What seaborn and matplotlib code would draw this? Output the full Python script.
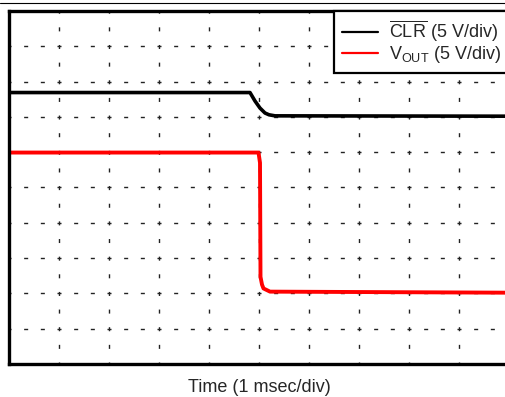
import numpy as np
import pandas as pd
import matplotlib.pyplot as plt
import seaborn as sns
from matplotlib.lines import Line2D

# scope traces, read in screen divisions (x: 1 msec/div, y: 5 V/div)
clr_time = [0, 4.82, 4.92, 5.02, 5.12, 5.2, 5.32, 10]
clr_level = [7.69, 7.69, 7.45, 7.25, 7.11, 7.06, 7.03, 7.02]
vout_time = [0, 4.99, 5.02, 5.03, 5.06, 5.09, 5.22, 10]
vout_level = [5.99, 5.99, 5.70, 2.47, 2.25, 2.14, 2.05, 2.02]

labels = [r'$\overline{\mathrm{CLR}}$ (5 V/div)', r'V$_{\mathrm{OUT}}$ (5 V/div)']
colors = ['black', 'red']
divisions = list(range(11))

sns.set_style('white')
plt.rcParams['font.family'] = ['Liberation Sans', 'DejaVu Sans']
plt.rcParams['mathtext.fontset'] = 'custom'
plt.rcParams['mathtext.rm'] = 'Liberation Sans'
plt.rcParams['lines.scale_dashes'] = False

fig = plt.figure(figsize=(5.06, 3.97), dpi=100)
ax = fig.add_axes([9 / 506, 33 / 397, 500 / 506, 353 / 397])

sns.lineplot(x=clr_time, y=clr_level, color=colors[0], lw=2.6, label=labels[0],
             estimator=None, sort=False, ax=ax)
sns.lineplot(x=vout_time, y=vout_level, color=colors[1], lw=2.8, label=labels[1],
             estimator=None, sort=False, ax=ax)

ax.set_xlim(0, 10)
ax.set_ylim(0, 10)
ax.set_xticks(divisions)
ax.set_yticks(divisions)
ax.set_xticklabels([])
ax.set_yticklabels([])
ax.tick_params(length=0)

# scope graticule: short dashes, crossing at each division
ax.xaxis.grid(True, color='#222222', lw=1.0, linestyle=(1.45, (2.9, 9.8)))
ax.yaxis.grid(True, color='#222222', lw=1.0, linestyle=(1.45, (2.9, 9.1)))
ax.set_axisbelow(True)
for s in ax.spines.values():
    s.set_linewidth(2.4)
    s.set_color('black')

ax.set_xlabel('Time (1 msec/div)', fontsize=13, labelpad=7.5)
ax.set_ylabel('')

leg = ax.legend(loc='upper right', bbox_to_anchor=(1, 1), borderaxespad=0,
                fontsize=13, handlelength=2.0, handletextpad=0.62, borderpad=0.43,
                labelspacing=0.0, fancybox=False, framealpha=1, edgecolor='black')
leg.get_frame().set_linewidth(1.6)
for h in leg.get_lines():
    h.set_linewidth(1.6)

fig.add_artist(Line2D([0, 1], [1 - 2.5 / 397] * 2, color='black', lw=0.8))

fig.savefig('out.png', dpi=100)
